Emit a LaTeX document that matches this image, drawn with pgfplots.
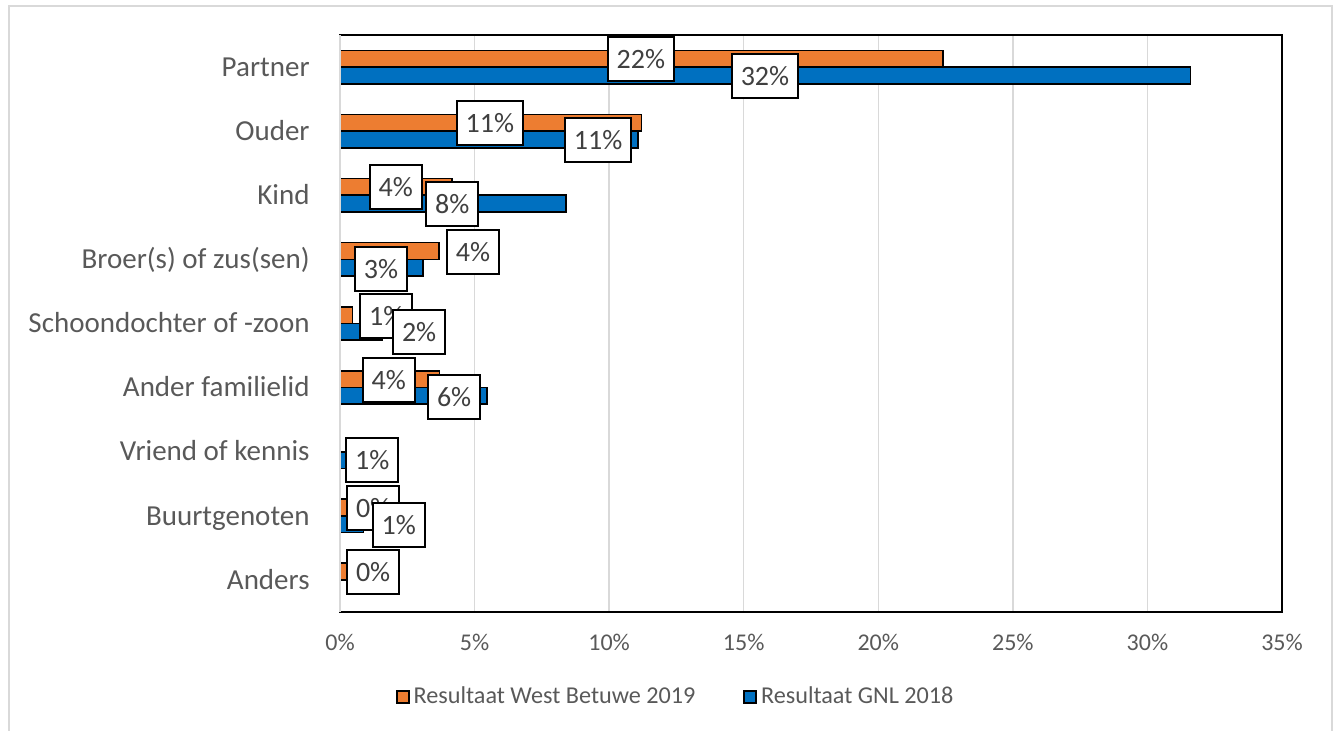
\documentclass[border=0pt]{standalone}
\usepackage{fontspec}
\setmainfont{Carlito}
\usepackage{pgfplots}
\pgfplotsset{compat=1.18}
\definecolor{orangeS}{HTML}{ED7D31}
\definecolor{blueS}{HTML}{0070C0}
\definecolor{txtgray}{HTML}{595959}
\definecolor{lblgray}{HTML}{404040}
\definecolor{gridgray}{HTML}{D9D9D9}
\begin{document}
\begin{tikzpicture}
\useasboundingbox (0,0) rectangle (669pt,-365.5pt);
\draw[gridgray, line width=1pt] (4.25pt,-365.5pt) -- (4.25pt,-3.25pt) -- (666pt,-3.25pt) -- (666pt,-365.5pt);
\begin{axis}[
  at={(170pt,-17.5pt)}, anchor=north west,
  scale only axis, width=471pt, height=288.5pt,
  xmin=0, xmax=35, ymin=-0.5, ymax=8.5,
  xbar, bar width=8.35pt,
  clip=false,
  axis line style={black, line width=1pt},
  major tick length=0pt,
  xtick={0,5,...,35},
  xticklabel={\pgfmathprintnumber{\tick}\%},
  /pgf/number format/assume math mode=true,
  xticklabel style={font=\fontsize{12}{14}\selectfont, text=txtgray, anchor=base, inner sep=0pt, yshift=-19.5pt},
  ytick={0,...,8},
  yticklabels={Anders,Buurtgenoten,Vriend of kennis,Ander familielid,Schoondochter of -zoon,Broer(s) of zus(sen),Kind,Ouder,Partner},
  yticklabel style={font=\fontsize{14.5}{16}\selectfont, text=txtgray, anchor=base east, inner sep=0pt, xshift=-15pt, yshift=-4.6pt},
  xmajorgrids, grid style={gridgray, line width=0.75pt},
  legend columns=2,
  legend style={draw=none, fill=none, font=\fontsize{12.1}{14}\selectfont, text=txtgray,
    at={(rel axis cs:0.3575,-0.1473)}, anchor=center,
    /tikz/every even column/.append style={column sep=22pt}},
  legend image code/.code={\draw[#1, line width=0.8pt] (0pt,-3pt) rectangle (6pt,3pt);},
]
\addplot[fill=orangeS, draw=black, line width=0.8pt, bar shift=4.175pt] coordinates {
 (22.4,8) (11.2,7) (4.17,6) (3.68,5) (0.46,4) (3.69,3) (0,2) (0.3,1) (0.3,0)};
\addlegendentry{Resultaat West Betuwe 2019}
\addplot[fill=blueS, draw=black, line width=0.8pt, bar shift=-4.175pt] coordinates {
 (31.6,8) (11.08,7) (8.39,6) (3.08,5) (1.57,4) (5.47,3) (0.6,2) (0.87,1) (0,0)};
\addlegendentry{Resultaat GNL 2018}
\draw[gridgray, line width=1pt] (rel axis cs:0,0) -- (rel axis cs:0,1);
\tikzset{lbl/.style={draw=black, line width=1pt, fill=white, text=lblgray, font=\fontsize{14}{16}\selectfont, inner xsep=4.5pt, inner ysep=0pt, minimum height=22pt, text height=9.5pt, text depth=0pt}}
% orange labels
\node[lbl] at (axis cs:11.18,8.130) {22\%};
\node[lbl] at (axis cs:5.57,7.127) {11\%};
\node[lbl] at (axis cs:2.07,6.129) {4\%};
\node[lbl] at (axis cs:4.94,5.115) {4\%};
\node[lbl] at (axis cs:1.72,4.122) {1\%};
\node[lbl] at (axis cs:1.81,3.119) {4\%};
\node[lbl] at (axis cs:1.23,1.122) {0\%};
\node[lbl] at (axis cs:1.23,0.124) {0\%};
% blue labels
\node[lbl] at (axis cs:15.79,7.864) {32\%};
\node[lbl] at (axis cs:9.59,6.862) {11\%};
\node[lbl] at (axis cs:4.17,5.864) {8\%};
\node[lbl] at (axis cs:1.52,4.850) {3\%};
\node[lbl] at (axis cs:2.94,3.868) {2\%};
\node[lbl] at (axis cs:4.24,2.854) {6\%};
\node[lbl] at (axis cs:1.20,1.863) {1\%};
\node[lbl] at (axis cs:2.18,0.857) {1\%};
\end{axis}
\end{tikzpicture}
\end{document}
